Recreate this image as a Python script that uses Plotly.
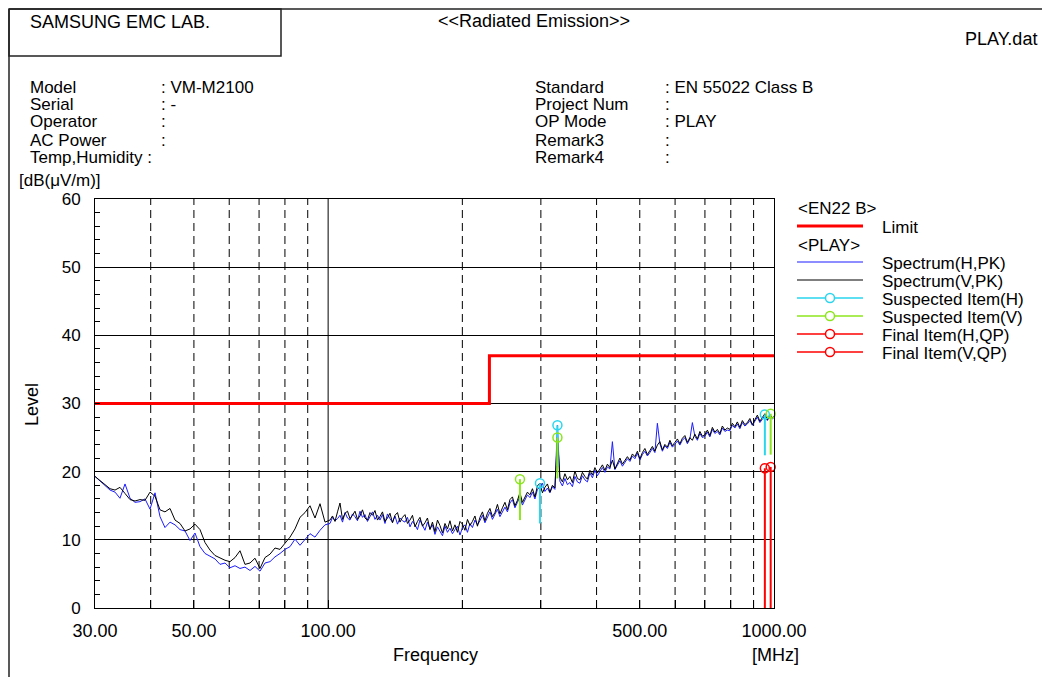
import math
import plotly.graph_objects as go

# ---------------- data ----------------
freq_low = [30.0, 30.79, 31.59, 32.42, 33.27, 34.13, 35.03, 35.95, 36.89, 37.85,
            38.84, 39.86, 40.90, 41.97, 43.06, 44.19, 45.35, 46.54, 47.75, 49.00,
            50.28, 51.60, 52.95, 54.33, 55.75, 57.21, 58.71, 60.24, 61.82, 63.44,
            65.09, 66.80, 68.54, 70.34, 72.18, 74.07, 76.00, 77.99, 80.03, 82.13,
            84.27, 86.48, 88.74, 91.06, 93.44, 95.89, 98.40]
h_low = [19.3, 18.6, 17.9, 17.3, 17.0, 16.1, 18.2, 16.1, 15.5, 15.6,
         16.0, 14.5, 16.9, 13.4, 11.8, 12.6, 12.2, 11.5, 11.3, 9.9,
         11.0, 9.0, 8.0, 7.6, 7.2, 6.4, 6.6, 5.9, 6.2, 5.8,
         6.0, 5.5, 6.1, 5.4, 6.6, 6.8, 7.5, 8.0, 8.6, 9.0,
         10.1, 9.2, 10.0, 10.9, 10.4, 11.4, 12.2]
v_low = [19.3, 18.7, 18.0, 17.5, 17.3, 17.7, 16.8, 15.9, 15.7, 15.9,
         15.8, 17.0, 16.4, 14.4, 14.1, 14.6, 12.9, 12.4, 11.3, 11.6,
         12.3, 11.5, 9.6, 8.5, 7.7, 7.3, 7.0, 6.8, 7.4, 8.4,
         6.4, 6.6, 7.3, 5.8, 7.4, 7.9, 8.8, 8.6, 9.5, 10.4,
         11.6, 13.3, 14.0, 15.0, 13.2, 15.3, 12.6]

freq_high = [100.97, 102.28, 103.61, 104.96, 106.32, 107.70, 109.10, 110.52, 111.95, 113.41,
             114.88, 116.37, 117.88, 119.41, 120.96, 122.53, 124.13, 125.74, 127.37, 129.03,
             130.70, 132.40, 134.12, 135.86, 137.63, 139.42, 141.23, 143.07, 144.92, 146.80,
             148.71, 150.64, 152.60, 154.58, 156.59, 158.63, 160.68, 162.77, 164.88, 167.02,
             169.19, 171.39, 173.62, 175.88, 178.16, 180.48, 182.82, 185.20, 187.60, 190.04,
             192.50, 195.00, 197.54, 200.11, 202.70, 205.34, 208.00, 210.70, 213.44, 216.21,
             219.02, 221.87, 224.75, 227.67, 230.63, 233.63, 236.66, 239.74, 242.85, 246.01,
             249.20, 252.44, 255.71, 259.03, 262.40, 265.81, 269.26, 272.76, 276.30, 279.89,
             283.53, 287.22, 290.94, 294.72, 298.55, 302.43, 306.36, 310.34, 314.37, 318.46,
             322.59, 326.78, 331.02, 335.32, 339.68, 344.10, 348.56, 353.09, 357.68, 362.33,
             367.03, 371.80, 376.63, 381.53, 386.48, 391.50, 396.58, 401.74, 406.95, 412.24,
             417.59, 423.02, 428.51, 434.08, 439.72, 445.44, 451.22, 457.09, 463.02, 469.04,
             475.13, 481.31, 487.55, 493.89, 500.30, 506.80, 513.38, 520.05, 526.80, 533.65,
             540.58, 547.61, 554.72, 561.93, 569.22, 576.62, 584.11, 591.70, 599.38, 607.17,
             615.06, 623.06, 631.14, 639.35, 647.64, 656.06, 664.58, 673.22, 681.96, 690.83,
             699.79, 708.89, 718.09, 727.42, 736.87, 746.45, 756.14, 765.97, 775.91, 786.00,
             796.20, 806.55, 817.02, 827.64, 838.38, 849.28, 860.30, 871.48, 882.80, 894.28,
             905.89, 917.67, 929.57, 941.65, 953.88, 966.28, 978.82, 991.55, 1000.0]
h_high = [12.4, 13.3, 12.8, 13.1, 13.6, 12.6, 14.0, 13.2, 12.9, 13.8,
          13.4, 12.8, 14.2, 13.3, 13.7, 12.7, 13.5, 14.1, 13.0, 13.6,
          12.9, 13.7, 12.4, 13.8, 13.1, 12.6, 13.5, 12.3, 13.2, 12.8,
          12.6, 13.3, 11.9, 12.7, 12.2, 11.5, 12.9, 12.1, 11.4, 12.6,
          11.6, 12.2, 10.8, 11.9, 11.3, 10.6, 12.0, 11.1, 11.7, 10.9,
          11.5, 12.0, 10.7, 11.8, 12.2, 11.1, 12.4, 11.8, 12.9, 12.2,
          12.8, 13.6, 12.5, 13.3, 14.1, 13.0, 13.7, 14.5, 13.4, 14.2,
          14.8, 14.1, 15.4, 15.9, 14.7, 15.5, 16.3, 15.1, 15.8, 16.6,
          16.2, 17.0, 16.0, 17.4, 17.7, 18.3, 17.1, 17.6, 16.9, 17.8,
          17.4, 26.8, 18.6, 17.9, 19.0, 18.1, 18.4, 17.8, 19.3, 18.5,
          18.3, 19.4, 18.8, 18.5, 19.8, 19.1, 20.2, 19.4, 20.0, 20.6,
          19.9, 20.7, 20.4, 24.4, 20.3, 21.0, 21.6, 20.8, 21.3, 21.9,
          21.5, 22.3, 21.9, 22.7, 21.7, 22.5, 23.0, 22.3, 22.8, 23.4,
          22.8, 27.1, 24.1, 23.0, 23.8, 23.4, 24.3, 23.6, 24.0, 24.5,
          23.9, 24.6, 25.0, 24.1, 24.8, 27.2, 25.2, 24.6, 25.6, 25.0,
          25.2, 25.8, 25.1, 26.2, 25.6, 25.9, 25.4, 26.4, 25.9, 26.1,
          26.0, 26.8, 26.4, 27.0, 26.3, 27.2, 26.7, 27.0, 27.5, 26.8,
          27.4, 28.0, 27.2, 27.8, 28.2, 27.5, 28.1, 27.7, 28.0]
v_high = [12.9, 13.5, 12.7, 14.1, 15.4, 13.0, 13.9, 14.2, 13.1, 13.6,
          14.2, 13.0, 13.5, 14.4, 13.2, 12.9, 14.0, 13.6, 14.3, 12.9,
          13.4, 14.1, 12.7, 13.2, 13.9, 12.5, 13.6, 14.0, 12.6, 13.3,
          13.7, 12.4, 12.9, 13.6, 11.9, 12.7, 13.3, 12.0, 12.5, 13.2,
          11.5, 12.6, 11.2, 12.9, 12.1, 11.0, 12.4, 11.6, 12.8, 11.3,
          12.2, 11.1, 12.7, 12.3, 11.4, 13.0, 12.1, 12.7, 13.5, 12.0,
          13.3, 14.1, 12.8, 13.9, 14.6, 13.4, 14.0, 15.2, 13.8, 14.7,
          15.5, 14.4, 15.9, 16.3, 15.0, 15.8, 16.9, 15.5, 16.2, 17.0,
          16.6, 17.5, 16.3, 17.9, 18.3, 16.9, 17.7, 18.2, 17.0, 18.0,
          17.6, 25.1, 19.2, 18.5, 19.7, 18.8, 19.3, 18.4, 20.1, 19.0,
          18.8, 19.9, 19.3, 18.9, 20.2, 19.5, 20.6, 19.8, 20.4, 21.0,
          20.2, 21.1, 20.6, 21.7, 20.4, 21.3, 22.0, 21.1, 21.6, 22.2,
          21.7, 22.6, 22.2, 23.0, 21.9, 22.8, 23.4, 22.5, 23.1, 23.7,
          23.0, 23.9, 24.4, 23.2, 24.0, 23.6, 24.6, 23.8, 24.3, 24.8,
          24.1, 24.9, 25.3, 24.3, 25.0, 24.6, 25.5, 24.8, 25.9, 25.2,
          25.4, 26.1, 25.3, 26.5, 25.8, 26.2, 25.6, 26.7, 26.1, 26.4,
          26.2, 27.1, 26.6, 27.3, 26.5, 27.5, 26.9, 27.2, 27.8, 26.9,
          27.6, 28.3, 27.4, 28.0, 28.5, 27.6, 28.4, 27.9, 28.2]

limit_freq = [30, 230, 230, 1000]
limit_level = [30, 30, 37, 37]

susp_h_freq = [298.6, 326.8, 953.9]
susp_h_peak = [18.3, 26.8, 28.4]
susp_h_low = [12.4, 20.8, 22.4]
susp_v_freq = [269.3, 326.8, 983.0]
susp_v_peak = [18.9, 25.0, 28.5]
susp_v_low = [12.9, 19.0, 22.5]
final_h_freq = [953.9]
final_h_level = [20.5]
final_v_freq = [983.0]
final_v_level = [20.7]

x_tick_vals = [30, 50, 100, 500, 1000]
x_tick_text = ["30.00", "50.00", "100.00", "500.00", "1000.00"]
grid_dashed = [40, 50, 60, 70, 80, 90, 200, 300, 400, 500, 600, 700, 800, 900]
grid_solid = [100]
y_ticks = [0, 10, 20, 30, 40, 50, 60]

header_left = [("Model", ": VM-M2100"), ("Serial", ": -"), ("Operator", ":"),
               ("AC Power", ":"), ("Temp,Humidity :", "")]
header_right = [("Standard", ": EN 55022 Class B"), ("Project Num", ":"),
                ("OP Mode", ": PLAY"), ("Remark3", ":"), ("Remark4", ":")]

# ---------------- style ----------------
FONT = "Liberation Sans, Arial, sans-serif"
FS = 18
FS_HDR = 17
FS_LEG = 17
BLUE = "#1c1cff"
CYAN = "#2ad6ee"
GREEN = "#8ce61e"
RED = "#ff0000"

OFF = 8                      # page body margin in the browser
W, H = 1050 - OFF, 677 - OFF  # figure size
L, R, T, B = 95, 774, 199, 608  # plot area in screenshot pixels


def PX(x):
    return (x - L) / (R - L)


def PY(y):
    return (B - y) / (B - T)


freq = freq_low + freq_high
lev_h = h_low + h_high
lev_v = v_low + v_high

fig = go.Figure()


def vlines(vals):
    xs, ys = [], []
    for v in vals:
        xs += [v, v, None]
        ys += [0, 60, None]
    return xs, ys


gx, gy = vlines(grid_dashed)
fig.add_trace(go.Scatter(x=gx, y=gy, mode="lines", hoverinfo="skip",
                         line=dict(color="black", width=1, dash="8px,5px")))
gx, gy = vlines(grid_solid)
fig.add_trace(go.Scatter(x=gx, y=gy, mode="lines", hoverinfo="skip",
                         line=dict(color="black", width=1)))

fig.add_trace(go.Scatter(x=freq, y=lev_h, mode="lines", name="Spectrum(H,PK)",
                         line=dict(color=BLUE, width=1)))
fig.add_trace(go.Scatter(x=freq, y=lev_v, mode="lines", name="Spectrum(V,PK)",
                         line=dict(color="black", width=1)))
fig.add_trace(go.Scatter(x=limit_freq, y=limit_level, mode="lines", name="Limit",
                         line=dict(color=RED, width=3)))


def stems(fs, lows, highs):
    xs, ys = [], []
    for f, lo, hi in zip(fs, lows, highs):
        xs += [f, f, None]
        ys += [lo, hi, None]
    return xs, ys


sx, sy = stems(susp_h_freq, susp_h_low, susp_h_peak)
fig.add_trace(go.Scatter(x=sx, y=sy, mode="lines", line=dict(color=CYAN, width=2)))
sx, sy = stems(susp_v_freq, susp_v_low, susp_v_peak)
fig.add_trace(go.Scatter(x=sx, y=sy, mode="lines", line=dict(color=GREEN, width=2)))
sx, sy = stems(final_h_freq, [0] * len(final_h_freq), final_h_level)
fig.add_trace(go.Scatter(x=sx, y=sy, mode="lines", line=dict(color=RED, width=2)))
sx, sy = stems(final_v_freq, [0] * len(final_v_freq), final_v_level)
fig.add_trace(go.Scatter(x=sx, y=sy, mode="lines", line=dict(color=RED, width=2)))

for fs, ls, col in [(susp_h_freq, susp_h_peak, CYAN), (susp_v_freq, susp_v_peak, GREEN),
                    (final_h_freq, final_h_level, RED), (final_v_freq, final_v_level, RED)]:
    fig.add_trace(go.Scatter(x=fs, y=ls, mode="markers", cliponaxis=False,
                             marker=dict(symbol="circle-open", size=9, color=col,
                                         line=dict(width=1.5, color=col))))

shapes = []
# outer frame and title box
FRAME = dict(color="#222", width=1.5)
shapes.append(dict(type="line", xref="paper", yref="paper", x0=PX(9), x1=PX(9),
                   y0=PY(9), y1=PY(690), line=FRAME))
shapes.append(dict(type="line", xref="paper", yref="paper", x0=PX(9), x1=PX(1060),
                   y0=PY(9), y1=PY(9), line=FRAME))
shapes.append(dict(type="rect", xref="paper", yref="paper", x0=PX(9), x1=PX(281),
                   y0=PY(9), y1=PY(56), line=FRAME))

annotations = []


def txt(s, x, y, anchor="left", size=FS, angle=0):
    annotations.append(dict(text=s, x=PX(x), y=PY(y), xref="paper", yref="paper",
                            xanchor=anchor, yanchor="middle", showarrow=False,
                            textangle=angle, font=dict(family=FONT, size=size, color="black")))


txt("SAMSUNG EMC LAB.", 28, 22)
txt("&lt;&lt;Radiated Emission&gt;&gt;", 534, 21, "center")
txt("PLAY.dat", 1039, 39, "right")
row_y = [87, 105, 122, 140, 158]
for (lab, val), y in zip(header_left, row_y):
    txt(lab, 28, y, size=FS_HDR)
    if val:
        txt(val, 159, y, size=FS_HDR)
for (lab, val), y in zip(header_right, row_y):
    txt(lab, 533, y, size=FS_HDR)
    txt(val, 663, y, size=FS_HDR)
txt("[dB(μV/m)]", 17, 180, size=FS_HDR)
txt("Level", 32, 405, "center", angle=-90)
txt("Frequency", 435, 655, "center")
txt("[MHz]", 775, 655, "center")

# legend
txt("&lt;EN22 B&gt;", 796, 208.5, size=FS_LEG)
shapes.append(dict(type="line", xref="paper", yref="paper", x0=PX(797), x1=PX(863),
                   y0=PY(226), y1=PY(226), line=dict(color=RED, width=3)))
txt("Limit", 880, 227, size=FS_LEG)
txt("&lt;PLAY&gt;", 796, 245, size=FS_LEG)
legend_items = [("Spectrum(H,PK)", BLUE, 262, False),
                ("Spectrum(V,PK)", "black", 280, False),
                ("Suspected Item(H)", CYAN, 298, True),
                ("Suspected Item(V)", GREEN, 316, True),
                ("Final Item(H,QP)", RED, 334, True),
                ("Final Item(V,QP)", RED, 352, True)]
for name, col, y, circ in legend_items:
    shapes.append(dict(type="line", xref="paper", yref="paper", x0=PX(797), x1=PX(863),
                       y0=PY(y), y1=PY(y), line=dict(color=col, width=1.5 if circ else 1.2)))
    if circ:
        shapes.append(dict(type="circle", xref="paper", yref="paper",
                           xsizemode="pixel", ysizemode="pixel",
                           xanchor=PX(830), yanchor=PY(y), x0=-4.5, x1=4.5, y0=-4.5, y1=4.5,
                           fillcolor="white", line=dict(color=col, width=1.5)))
    txt(name, 880, y + 1, size=FS_LEG)

fig.update_layout(
    width=W, height=H, autosize=False,
    margin=dict(l=L - OFF, r=W - (R - OFF), t=T - OFF, b=H - (B - OFF), pad=0),
    paper_bgcolor="white", plot_bgcolor="white",
    showlegend=False,
    font=dict(family=FONT, size=FS, color="black"),
    shapes=shapes, annotations=annotations,
    xaxis=dict(type="log", range=[math.log10(30), math.log10(1000)],
               tickvals=x_tick_vals, ticktext=x_tick_text,
               ticks="inside", ticklen=8, tickcolor="black",
               showgrid=False, zeroline=False,
               showline=True, linecolor="black", linewidth=1, mirror=True,
               ticklabelstandoff=6,
               minor=dict(tickvals=grid_dashed, ticks="inside", ticklen=8,
                          tickcolor="black", showgrid=False),
               tickfont=dict(family=FONT, size=FS)),
    yaxis=dict(range=[0, 60], tickvals=y_ticks,
               ticks="inside", ticklen=5, tickcolor="black",
               showgrid=True, gridcolor="black", gridwidth=1, zeroline=False,
               showline=True, linecolor="black", linewidth=1, mirror=True,
               ticklabelstandoff=10,
               minor=dict(dtick=2, ticks="inside", ticklen=5, tickcolor="black",
                          showgrid=False),
               tickfont=dict(family=FONT, size=17)),
)

fig.write_html("out.html")
